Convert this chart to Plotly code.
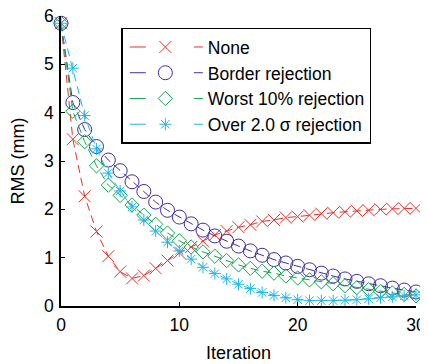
import plotly.graph_objects as go

iterations = list(range(31))

none_rms = [5.85, 3.45, 2.27, 1.54, 1.03, 0.71, 0.57, 0.63, 0.78, 0.94, 1.10,
            1.22, 1.34, 1.47, 1.55, 1.63, 1.68, 1.75, 1.78, 1.83, 1.85,
            1.88, 1.91, 1.93, 1.95, 1.97, 1.98, 2.00, 2.01, 2.02, 2.02]
border_rms = [5.85, 4.21, 3.65, 3.30, 3.02, 2.80, 2.57, 2.37, 2.15, 1.98, 1.84,
              1.70, 1.57, 1.45, 1.34, 1.24, 1.14, 1.05, 0.96, 0.89, 0.82,
              0.75, 0.68, 0.62, 0.56, 0.51, 0.46, 0.42, 0.37, 0.33, 0.29]
worst_rms = [5.85, 4.03, 3.40, 2.90, 2.50, 2.29, 2.09, 1.88, 1.69, 1.51, 1.35,
             1.22, 1.12, 1.03, 0.94, 0.85, 0.78, 0.72, 0.68, 0.62, 0.58,
             0.54, 0.50, 0.46, 0.42, 0.38, 0.34, 0.30, 0.27, 0.24, 0.21]
sigma_rms = [5.85, 4.92, 3.94, 3.25, 2.75, 2.38, 2.05, 1.78, 1.55, 1.32, 1.14,
             0.97, 0.80, 0.67, 0.56, 0.45, 0.36, 0.28, 0.22, 0.17, 0.13,
             0.11, 0.11, 0.11, 0.12, 0.13, 0.15, 0.17, 0.19, 0.21, 0.23]

series_names = ["None", "Border rejection", "Worst 10% rejection", "Over 2.0 σ rejection"]
series_values = [none_rms, border_rms, worst_rms, sigma_rms]
series_colors = ["#E8302A", "#3D2FA3", "#18A550", "#22B5E8"]
series_symbols = ["x-thin-open", "circle-open", "diamond-open", "asterisk-open"]
series_sizes = [12, 14, 11, 10]

x_ticks = [0, 10, 20, 30]
y_ticks = [0, 1, 2, 3, 4, 5, 6]

FONT = "Liberation Sans, Arial, Helvetica, sans-serif"
FS = 18
TFS = 17.5

fig = go.Figure()
for name, vals, col, sym, sz in zip(series_names, series_values, series_colors,
                                     series_symbols, series_sizes):
    fig.add_trace(go.Scatter(
        x=iterations, y=vals, name=name, mode="lines+markers",
        line=dict(color=col, width=1, dash="8px,5px"),
        marker=dict(symbol=sym, size=sz, color=col, line=dict(color=col, width=1)),
        cliponaxis=False, showlegend=False, legendgroup=name,
    ))
# legend entries (MATLAB-style "dash  marker  dash" sample)
for name, col, sym, sz in zip(series_names, series_colors, series_symbols, series_sizes):
    fig.add_trace(go.Scatter(
        x=[None], y=[None], name=name, mode="lines+markers",
        line=dict(color=col, width=1, dash="0px,2px,16px,48px,10px,200px"),
        marker=dict(symbol=sym, size=sz, color=col, line=dict(color=col, width=1)),
        showlegend=True, legendgroup=name,
    ))

# page body has an 8px default margin: the figure is sized/offset to compensate
fig.update_layout(
    width=420, height=356,
    margin=dict(l=53, r=12, t=8, b=58, autoexpand=False),
    paper_bgcolor="white", plot_bgcolor="white",
    font=dict(family=FONT, size=FS, color="black"),
    showlegend=True,
    legend=dict(
        x=0.17, y=0.96, xanchor="left", yanchor="top",
        bgcolor="white", bordercolor="black", borderwidth=1.5,
        font=dict(family=FONT, size=17.5, color="black"),
        itemwidth=75,
        entrywidth=264, entrywidthmode="pixels",
        tracegroupgap=0,
    ),
)
fig.update_xaxes(
    range=[0, 30], tickvals=x_ticks, ticks="inside", ticklen=4, tickwidth=1,
    tickcolor="black", showline=True, linecolor="black", linewidth=1.5,
    showgrid=False, zeroline=False, mirror=False, automargin=False,
    ticklabelstandoff=2, ticklabeloverflow="allow",
    title=dict(text="Iteration", font=dict(size=FS), standoff=13),
    tickfont=dict(size=TFS),
)
fig.update_yaxes(
    range=[0, 6], tickvals=y_ticks, ticks="inside", ticklen=4, tickwidth=1,
    tickcolor="black", showline=True, linecolor="black", linewidth=1.5,
    showgrid=False, zeroline=False, mirror=False, automargin=False,
    ticklabelstandoff=2, ticklabeloverflow="allow",
    title=dict(text="RMS (mm)", font=dict(size=FS), standoff=16),
    tickfont=dict(size=TFS),
)

fig.write_html("out.html")
